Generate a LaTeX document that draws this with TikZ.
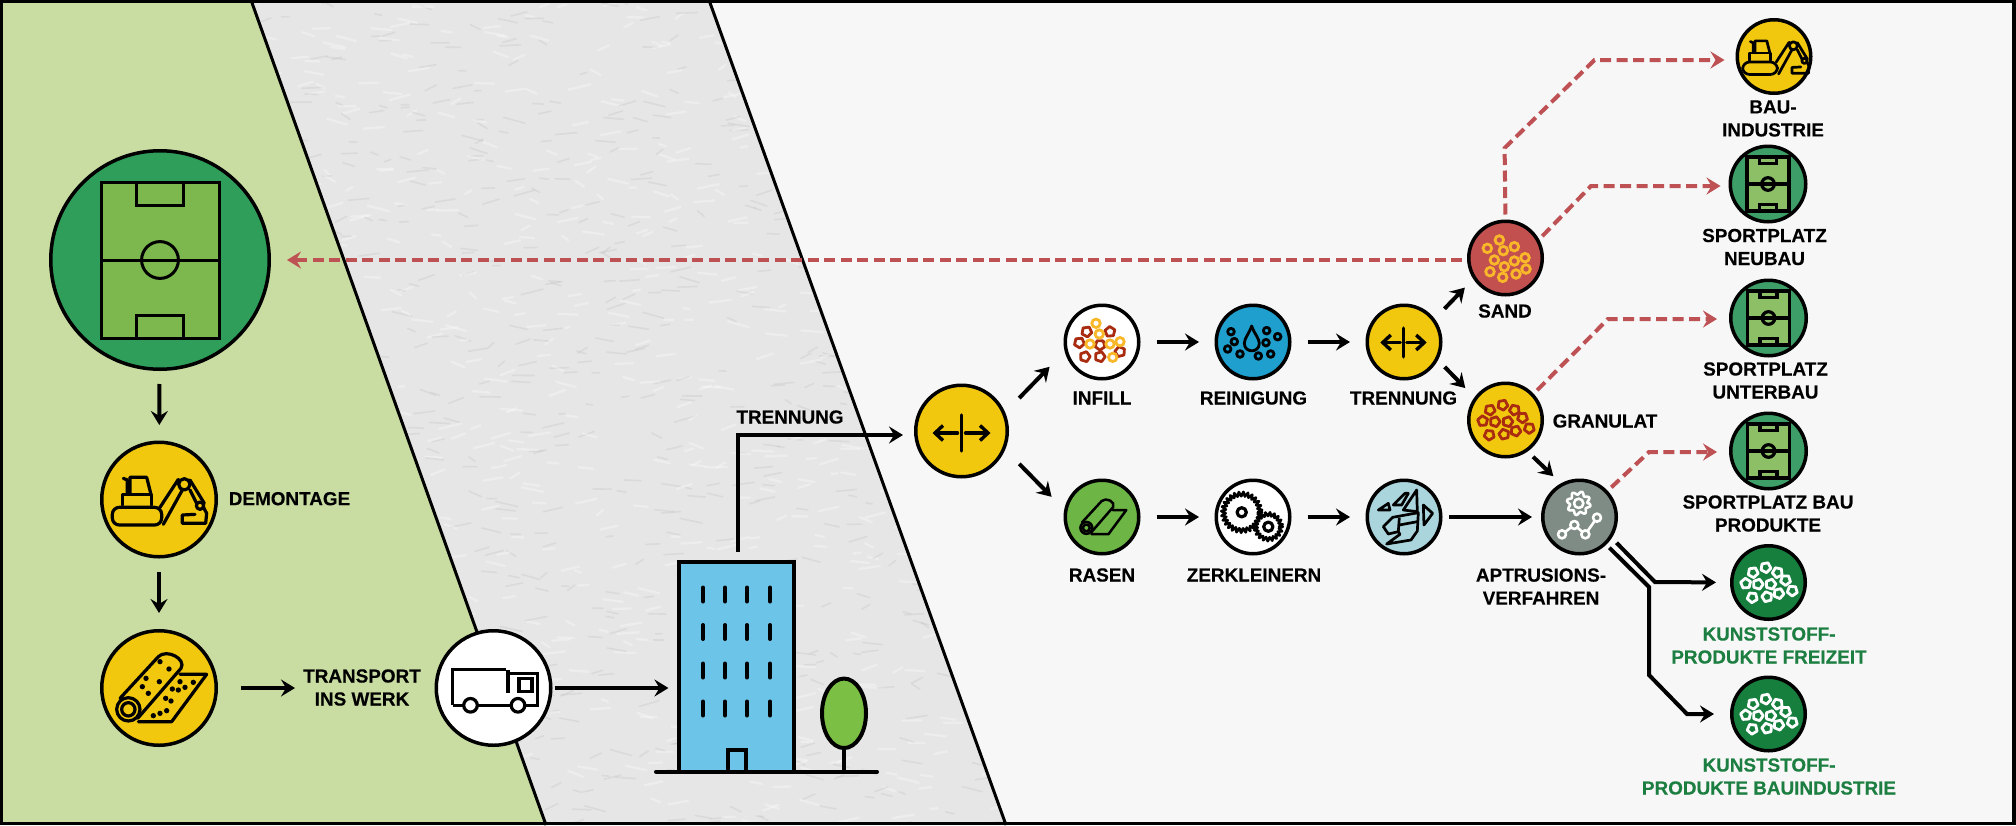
\documentclass[tikz,border=0pt]{standalone}
\usepackage{fontspec}
\setmainfont[BoldFeatures={FakeBold=0.25}]{Liberation Sans}
\usetikzlibrary{arrows.meta,shapes.geometric}
\definecolor{panelgreen}{HTML}{C9DCA1}
\definecolor{panelgrey}{HTML}{E6E6E6}
\definecolor{panelwhite}{HTML}{F7F7F7}
\definecolor{yel}{HTML}{F2C80F}
\definecolor{dashred}{HTML}{BE5154}
\definecolor{sandred}{HTML}{C2504F}
\definecolor{pitchdeep}{HTML}{2F9E5B}
\definecolor{pitchlawn}{HTML}{7CB84E}
\definecolor{pitchdeeps}{HTML}{3E9E68}
\definecolor{pitchlawns}{HTML}{8CBF66}
\definecolor{rasengreen}{HTML}{6DB544}
\definecolor{washblue}{HTML}{1E9FCE}
\definecolor{shredblue}{HTML}{ABD5DD}
\definecolor{aptgrey}{HTML}{7F8C85}
\definecolor{plastgreen}{HTML}{177F3E}
\definecolor{labelgreen}{HTML}{1C7F41}
\definecolor{sky}{HTML}{6CC4E8}
\definecolor{treegreen}{HTML}{7CBF45}
\definecolor{ringorange}{HTML}{F9B72A}
\definecolor{pentred}{HTML}{A92C10}
\tikzset{
  disc/.style={circle,draw=black,line width=3.5pt,inner sep=0pt,minimum size=73.5pt},
  bigdisc/.style={disc,minimum size=114.5pt},
  txt/.style={font=\fontsize{18.9}{23}\selectfont\bfseries,inner sep=0pt,align=center,anchor=center,text=black},
  gtxt/.style={txt,text=labelgreen},
  conn/.style={line width=4pt,draw=black,-{Stealth[length=14pt,width=17pt,inset=5pt]}},
  dconn/.style={line width=4pt,draw=dashred,dash pattern=on 11pt off 5.5pt,-{Stealth[length=14pt,width=17pt,inset=5pt]}},
  icon/.style={line width=#1,draw=black,line join=round,line cap=round},
}
% excavator, raw coordinates of a crop whose disc centre is (192,193.5)
\newcommand\excav[4]{\begin{scope}[shift={(#1,#2)},scale=#3,shift={(-192,-193.5)},icon=#4]
  \draw[rounded corners=7pt] (52,217) rectangle (200,270);
  \draw (82,210) -- (82,178) -- (170,178) -- (170,210);
  \draw (105,178) -- (105,127) -- (155,127) -- (168,178);
  \draw (85,130) -- (97,135) -- (97,178);
  \draw (195,217) -- (250,133);
  \draw (205,268) -- (262,165);
  \draw (268,148) circle[radius=17];
  \draw (285,135) -- (328,205);
  \draw (285,165) -- (305,205);
  \draw (315,212) circle[radius=11];
  \draw (300,238) -- (262,240) -- (262,265) -- (332,265) -- (335,235) -- (326,218);
\end{scope}}
% turf roll, raw coordinates of a crop whose disc centre is (192,759)
\newcommand\roll[4]{\begin{scope}[shift={(#1,#2)},scale=#3,shift={(-192,-759)},icon=#4]
  \draw (100,823) circle[radius=35];
  \draw (100,823) circle[radius=20];
  \draw (75,790) -- (190,665) .. controls (215,640) and (275,672) .. (258,700) -- (128,850);
  \draw (255,718) -- (335,718) -- (230,860) -- (130,860);
\end{scope}}
\newcommand\rolldots[3]{\begin{scope}[shift={(#1,#2)},scale=#3,shift={(-192,-759)}]
  \foreach \p/\q in {195/680,222/702,153/730,193/740,142/755,160/775,255/740,295/742,232/762,250/765,270/757,212/790,228/798,175/842,195/835,215/827}
    {\fill[black] (\p,\q) circle[radius=8];}
\end{scope}}
\newcommand\pitchicon[9]{\begin{scope}[shift={(#1,#2)},line width=#8,draw=black]
  \draw[fill=#9] (-#3,-#4) rectangle (#3,#4);
  \draw (-#5,-#4) rectangle (#5,-#4+#6);
  \draw (-#5,#4) rectangle (#5,#4-#6);
  \draw (-#3,0) -- (#3,0);
  \draw (0,0) circle[radius=#7];
\end{scope}}
\newcommand\splitsign[3]{\begin{scope}[shift={(#1,#2)},scale=#3,line width=3.4pt,line cap=round]
  \draw (0,-18) -- (0,18);
  \draw[-{Straight Barb[length=8pt,width=15pt]}] (-4,0) -- (-29,0);
  \draw[-{Straight Barb[length=8pt,width=15pt]}] (4,0) -- (29,0);
\end{scope}}
\newcommand\ringpiece[3]{\draw[line width=2.8pt,draw=#3] (#1,#2) circle[radius=4.2];}
\newcommand\pentpiece[4]{\draw[line width=2.8pt,draw=#3,line join=round] (#1,#2) ++(#4:5.2) -- ++(#4+126:6.11) -- ++(#4+198:6.11) -- ++(#4+270:6.11) -- ++(#4+342:6.11) -- cycle;}
\newcommand\pentcluster[3]{\begin{scope}[shift={(#1,#2)}]
  \foreach \p/\q/\a in {-15.5/-10/10,-2.8/-15/80,9/-10/30,17/-2.3/90,-22.8/1/50,-10.5/1.7/0,2.2/1.7/70,23.8/8.3/20,-16.2/15/95,-1.5/14.3/40,10.2/11/5}
    {\pentpiece{\p}{\q}{#3}{\a}}
\end{scope}}
\begin{document}
\begin{tikzpicture}[x=1pt,y=-1pt]
\useasboundingbox (0,0) rectangle (2016,825);
% panels
\fill[panelwhite] (0,0) rectangle (2016,825);
\fill[panelgrey] (251,0) -- (709,0) -- (1006,825) -- (546,825) -- cycle;
\fill[panelgreen] (0,0) -- (251,0) -- (546,825) -- (0,825) -- cycle;
\begin{scope}
  \clip (251,0) -- (709,0) -- (1006,825) -- (546,825) -- cycle;
  \pgfmathsetseed{11}
  \foreach \i in {1,...,1400}{
    \pgfmathsetmacro\xa{250+rnd*760}
    \pgfmathsetmacro\ya{rnd*825}
    \pgfmathsetmacro\xb{\xa+6+rnd*16}
    \pgfmathsetmacro\yb{\ya-6+rnd*12}
    \ifodd\i\relax
      \draw[white,line width=2.4pt,opacity=.3,line cap=round] (\xa,\ya) -- (\xb,\yb);
    \else
      \draw[black!25,line width=1.6pt,opacity=.3,line cap=round] (\xa,\ya) -- (\xb,\yb);
    \fi
  }
\end{scope}
\draw[line width=3pt] (251,0) -- (546,825);
\draw[line width=3pt] (709,0) -- (1006,825);
\draw[line width=3.5pt] (1.5,1.5) rectangle (2014,823.5);

% building and tree
\node[draw=black,line width=4pt,fill=sky,inner sep=0pt,minimum width=114.5pt,minimum height=209.5pt] (bld) at (736.7,666.8) {};
\foreach \p in {703,725,747,770}{\foreach \q in {587.5,625,663.5,701.5}{
  \draw[line width=4pt,line cap=round] (\p,\q) -- (\p,\q+14);}}
\draw[line width=4pt] (727.5,771) -- (727.5,749.5) -- (746,749.5) -- (746,771);
\node[ellipse,draw=black,line width=4pt,fill=treegreen,inner sep=0pt,minimum width=44pt,minimum height=69.5pt] (tree) at (844,713.3) {};
\path (656,771.7) coordinate (groundl) (877,771.7) coordinate (groundr);
\draw[line width=4pt,line cap=round] (tree.south) -- (tree.south |- groundl);
\draw[line width=4pt,line cap=round] (groundl) -- (groundr);

% discs
\node[bigdisc,minimum size=218.5pt,fill=pitchdeep] (pitch) at (160,260) {};
\node[bigdisc,fill=yel] (dem) at (159,499.5) {};
\node[bigdisc,fill=yel] (turf) at (159,688) {};
\node[bigdisc,fill=white] (truck) at (493.5,688) {};
\node[disc,minimum size=91.5pt,fill=yel] (trenn) at (961.5,431) {};
\node[disc,fill=white] (infill) at (1102,342) {};
\node[disc,fill=rasengreen] (rasen) at (1102,517) {};
\node[disc,fill=washblue] (rein) at (1253,342) {};
\node[disc,fill=white] (zerk) at (1253,517) {};
\node[disc,fill=yel] (trennb) at (1404,342) {};
\node[disc,fill=shredblue] (shred) at (1404,517) {};
\node[disc,fill=sandred] (sand) at (1505.5,258) {};
\node[disc,fill=yel] (gran) at (1505.5,420) {};
\node[disc,fill=aptgrey] (apt) at (1579.5,517) {};
\node[disc,fill=yel] (bau) at (1774,56.5) {};
\node[disc,minimum size=75.5pt,fill=pitchdeeps] (sn) at (1768,184) {};
\node[disc,minimum size=75.5pt,fill=pitchdeeps] (su) at (1768.5,318) {};
\node[disc,minimum size=75.5pt,fill=pitchdeeps] (sb) at (1768.5,451) {};
\node[disc,fill=plastgreen] (ka) at (1768.5,582.5) {};
\node[disc,fill=plastgreen] (kb) at (1768.5,714) {};

% icons
\pitchicon{160}{260}{59}{78}{23.5}{23}{18.4}{3pt}{pitchlawn}
\pitchicon{1768}{184}{21}{27}{8.5}{6.5}{6.3}{3.2pt}{pitchlawns}
\pitchicon{1768.5}{318}{21}{27}{8.5}{6.5}{6.3}{3.2pt}{pitchlawns}
\pitchicon{1768.5}{451}{21}{27}{8.5}{6.5}{6.3}{3.2pt}{pitchlawns}
\excav{159}{499.5}{0.3333}{3.2pt}
\excav{1775.5}{56.5}{0.235}{2.7pt}
\rolldots{159}{688}{0.3333}
\roll{159}{688}{0.3333}{3.2pt}
\roll{1102}{517}{0.17}{2.5pt}
% truck
\begin{scope}[line width=3.2pt,line join=miter]
  \draw (452.7,705.3) -- (452.7,669.6) -- (506,669.6);
  \draw[line width=4pt] (508,669.6) -- (508,693);
  \draw (510,673.5) -- (537.8,673.5) -- (537.8,705.3) -- (452.7,705.3);
  \draw (519,678.6) rectangle (532,691.5);
  \draw[fill=white] (470.5,705.3) circle[radius=6.8];
  \draw[fill=white] (518,705.3) circle[radius=6.8];
\end{scope}
\splitsign{961.5}{433}{1}
\splitsign{1403.5}{342.5}{0.8}
% infill mix
\foreach \p/\q/\a in {1086.7/331.7/10,1110/331.7/50,1079.3/342.7/85,1100/345/20,1085/356.7/70,1100/356.7/0,1120/351.7/40}
  {\pentpiece{\p}{\q}{pentred}{\a}}
\foreach \p/\q in {1096/323.3,1099.3/334,1090/344,1110/344,1112.7/357.3,1120/341.7}
  {\ringpiece{\p}{\q}{ringorange}}
% washing
\begin{scope}[shift={(1100,200)},scale=.3333,line width=2.8pt,line join=round]
  \draw (455,378) .. controls (448,400) and (433,415) .. (433,430) .. controls (433,460) and (478,460) .. (478,430) .. controls (478,415) and (462,400) .. (455,378) -- cycle;
  \foreach \p/\q in {393/395,403/425,383/447,420/462,475/468,512/462,498/428,500/392,533/410}
    {\draw (\p,\q) circle[radius=10];}
\end{scope}
% gears
\begin{scope}[shift={(1241.7,512.3)},line width=2.6pt,line join=round]
  \draw[fill=white] plot[domain=0:55,samples=56] ({cos(\x*6.5454)*(18.3+2.2*cos(\x*180))},{sin(\x*6.5454)*(18.3+2.2*cos(\x*180))}) -- cycle;
  \draw[line width=3.2pt] (0,0) circle[radius=4.6];
\end{scope}
\begin{scope}[shift={(1268.3,526.7)},line width=2.6pt,line join=round]
  \draw[fill=white] plot[domain=0:39,samples=40] ({cos(\x*9.23)*(12.6+1.9*cos(\x*180))},{sin(\x*9.23)*(12.6+1.9*cos(\x*180))}) -- cycle;
  \draw[line width=3.2pt] (0,0) circle[radius=4.6];
\end{scope}
% shredded plastic
\begin{scope}[shift={(1210,475)},scale=.3333,line width=2.7pt,line join=round]
  \draw (505,105) -- (535,85) -- (540,105) -- cycle;
  \draw (550,90) -- (585,55) -- (595,55) -- (575,90) -- cycle;
  \draw (580,105) -- (620,45) -- (622,110) -- cycle;
  \draw (640,90) -- (668,115) -- (642,150) -- cycle;
  \draw (520,155) -- (548,127) -- (625,113) -- (622,168) -- (603,195) -- (530,207) -- (570,178) -- (565,170) -- (535,177) -- cycle;
  \draw (568,128) -- (565,170);
  \draw (568,150) -- (622,140);
\end{scope}
% extrusion process
\begin{scope}[shift={(1536,475)},scale=.3333,line width=2.6pt,draw=white,line join=round]
  \draw (128,85) circle[radius=14];
  \draw[shift={(128,85)}] plot[domain=0:63,samples=64] ({cos(\x*5.714)*(31+5*sin(\x*45))},{sin(\x*5.714)*(31+5*sin(\x*45))}) -- cycle;
  \draw (78,178) -- (115,150) -- (148,178) -- (183,128);
  \foreach \p/\q in {78/178,115/150,148/178,183/128}
    {\draw[fill=aptgrey] (\p,\q) circle[radius=12];}
\end{scope}
% sand rings
\foreach \p/\q in {82/100,118/75,163/95,130/107,103/135,163/138,195/128,90/170,133/155,128/187,168/177,198/162}
  {\draw[line width=2.8pt,draw=ringorange] (1460+\p/3,215+\q/3) circle[radius=4.3];}
\pentcluster{1505.5}{420}{pentred}
\pentcluster{1768.5}{582.5}{white}
\pentcluster{1768.5}{714}{white}

% labels
\node[txt] (tdem) at (289.5,498.7) {DEMONTAGE};
\node[txt] (ttrans) at (362,687.5) {TRANSPORT\\INS WERK};
\node[txt] (ttrenn) at (790,417) {TRENNUNG};
\node[txt] (tinfill) at (1102,398) {INFILL};
\node[txt] (trasen) at (1102,575) {RASEN};
\node[txt] (trein) at (1253.5,398) {REINIGUNG};
\node[txt] (ttrennb) at (1403.5,398) {TRENNUNG};
\node[txt] (tzerk) at (1254,575) {ZERKLEINERN};
\node[txt] (tsand) at (1505,311) {SAND};
\node[txt] (tgran) at (1605,421) {GRANULAT};
\node[txt] (tapt) at (1541,586.5) {APTRUSIONS-\\VERFAHREN};
\node[txt] (tbau) at (1773,118.5) {BAU-\\INDUSTRIE};
\node[txt] (tsn) at (1764.5,247) {SPORTPLATZ\\NEUBAU};
\node[txt] (tsu) at (1765.5,380.5) {SPORTPLATZ\\UNTERBAU};
\node[txt] (tsb) at (1768,513.5) {SPORTPLATZ BAU\\PRODUKTE};
\node[gtxt] (tka) at (1769,645.5) {KUNSTSTOFF-\\PRODUKTE FREIZEIT};
\node[gtxt] (tkb) at (1769,776.5) {KUNSTSTOFF-\\PRODUKTE BAUINDUSTRIE};

% solid connectors
\draw[conn,shorten <=13pt,shorten >=15.5pt] (pitch) -- (dem);
\draw[conn,shorten <=13.5pt,shorten >=16pt] (dem) -- (turf);
\draw[conn,shorten <=23pt,shorten >=8pt] (turf) -- (turf -| ttrans.west);
\draw[conn,shorten <=2pt,shorten >=9pt] (truck) -- (truck -| bld.west);
\coordinate (bendt) at (738,435);
\draw[conn,shorten <=8pt,shorten >=11pt] (bendt |- bld.north) -- (bendt) -- (bendt -| trenn.west);
\draw[conn,shorten <=20pt,shorten >=21.6pt] (trenn.23.6) -- (infill.194.8);
\draw[conn,shorten <=20pt,shorten >=18pt] (trenn.-23.9) -- (rasen.169);
\draw[conn,shorten <=16pt,shorten >=15.5pt] (infill) -- (rein);
\draw[conn,shorten <=16pt,shorten >=15.5pt] (rein) -- (trennb);
\draw[conn,shorten <=16pt,shorten >=15.5pt] (rasen) -- (zerk);
\draw[conn,shorten <=16pt,shorten >=15.5pt] (zerk) -- (shred);
\draw[conn,shorten <=6.5pt,shorten >=9pt] (shred) -- (apt);
\draw[conn,shorten <=14pt,shorten >=12pt] (trennb.37.5) -- (sand.213.9);
\draw[conn,shorten <=9.5pt,shorten >=13pt] (trennb.-28.8) -- (gran.144);
\draw[conn,shorten <=7.6pt,shorten >=10.3pt] (gran.-55) -- (apt.119);
\coordinate (benda) at (1655,582);
\draw[conn,line join=miter,shorten <=6.7pt,shorten >=14pt] (apt.-33.7) -- (benda) -- (ka.west);
\coordinate (bendb) at (1649,587);
\coordinate (bendc) at (1649,675);
\coordinate (bendd) at (1687,714);
\draw[conn,shorten <=4.3pt,shorten >=16pt] (apt.-46.4) -- (bendb) -- (bendc) -- (bendd) -- (kb.west);

% dashed connectors
\draw[dconn,shorten <=5pt,shorten >=16pt] (pitch -| sand.west) -- (pitch.east);
\coordinate (bende) at (1504.6,148);
\coordinate (bendf) at (1594.5,60);
\draw[dconn,shorten <=5pt,shorten >=11pt] (sand.north) -- (bende) -- (bendf) -- (bendf -| bau.west);
\coordinate (bendg) at (1591,186);
\draw[dconn,shorten <=4.5pt,shorten >=8pt] (sand.29) -- (bendg) -- (bendg -| sn.west);
\coordinate (bendh) at (1608,319);
\draw[dconn,shorten <=5pt,shorten >=12pt] (gran.43) -- (bendh) -- (bendh -| su.west);
\coordinate (bendi) at (1649,452);
\draw[dconn,shorten <=5pt,shorten >=12pt] (apt.43) -- (bendi) -- (bendi -| sb.west);
\end{tikzpicture}
\end{document}
